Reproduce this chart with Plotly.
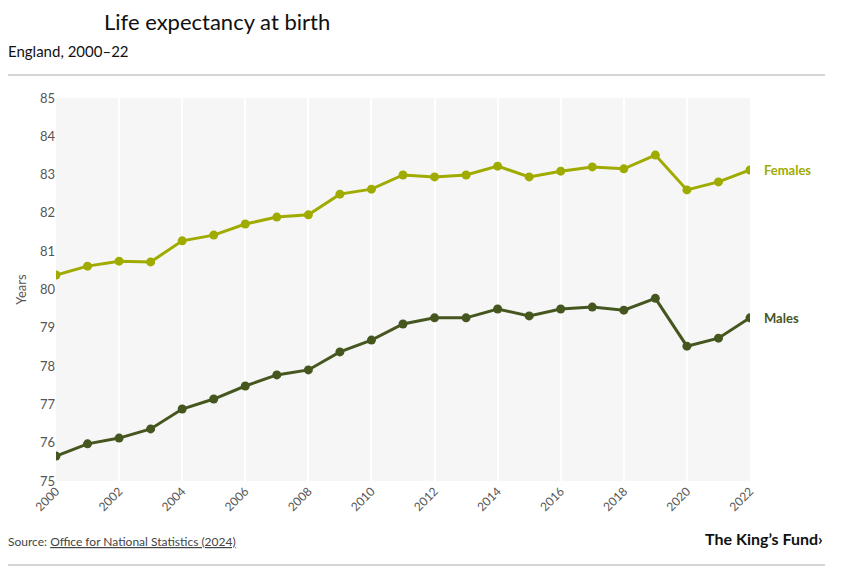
import plotly.graph_objects as go

years = list(range(2000, 2023))
females = [80.38, 80.61, 80.74, 80.72, 81.27, 81.42, 81.71, 81.89, 81.95, 82.49, 82.62, 82.99,
           82.94, 82.99, 83.22, 82.94, 83.09, 83.20, 83.15, 83.51, 82.60, 82.81, 83.12]
males = [75.65, 75.97, 76.12, 76.36, 76.88, 77.14, 77.48, 77.77, 77.90, 78.37, 78.68, 79.10,
         79.26, 79.26, 79.49, 79.31, 79.49, 79.54, 79.46, 79.77, 78.52, 78.73, 79.26]
series_names = ["Females", "Males"]
colors = ["#a0ab00", "#45561f"]

FONT = "Source Sans Pro, Lato, Noto Sans, sans-serif"

# page body has an 8px margin; figure coordinates are offset by 8px
OFF = 8
W, H = 857 - OFF, 571 - OFF
L, T = 56 - OFF, 98 - OFF
PW, PH = 694, 383

def px(x):
    return (x - OFF - L) / PW

def py(y):
    return 1 - (y - OFF - T) / PH

fig = go.Figure()
for name, vals, col in zip(series_names, [females, males], colors):
    fig.add_trace(go.Scatter(x=years, y=vals, mode="lines+markers", name=name,
                             line=dict(color=col, width=3), marker=dict(color=col, size=9)))
    fig.add_annotation(x=years[-1], y=vals[-1], text=f"<b>{name}</b>", showarrow=False,
                       xanchor="left", xshift=12, font=dict(color=col, size=13, family=FONT))

fig.update_layout(
    width=W, height=H,
    margin=dict(l=L, r=W - L - PW, t=T, b=H - T - PH),
    paper_bgcolor="white", plot_bgcolor="#f6f6f6",
    showlegend=False,
    font=dict(family=FONT, color="#555555"),
)

fig.update_xaxes(range=[2000, 2022], tickmode="array", tickvals=list(range(2000, 2023, 2)),
                 tickangle=-45, showgrid=True, gridcolor="white", gridwidth=2,
                 zeroline=False, showline=False, ticks="", tickfont=dict(size=12, color="#555555"))
fig.update_yaxes(range=[75, 85], dtick=1, showgrid=False, zeroline=False, showline=False,
                 ticks="", tickfont=dict(size=13, color="#555555"),
                 title=dict(text="Years", font=dict(size=13, color="#555555"), standoff=10))

fig.add_annotation(xref="paper", yref="paper", x=px(217), y=py(22), text="Life expectancy at birth",
                   showarrow=False, xanchor="center", yanchor="middle",
                   font=dict(size=22, color="#111111", family=FONT))
fig.add_annotation(xref="paper", yref="paper", x=px(6), y=py(51), text="England, 2000\u201322",
                   showarrow=False, xanchor="left", yanchor="middle",
                   font=dict(size=15, color="#111111", family=FONT))
fig.add_shape(type="line", xref="paper", yref="paper", x0=px(6), x1=px(825),
              y0=py(75), y1=py(75), line=dict(color="#aaaaaa", width=1))
fig.add_shape(type="line", xref="paper", yref="paper", x0=px(6), x1=px(825),
              y0=py(565), y1=py(565), line=dict(color="#aaaaaa", width=1))
fig.add_annotation(xref="paper", yref="paper", x=px(6), y=py(541),
                   text="Source: <u>Office for National Statistics (2024)</u>",
                   showarrow=False, xanchor="left", yanchor="middle",
                   font=dict(size=12, color="#444444", family=FONT))
fig.add_annotation(xref="paper", yref="paper", x=px(825), y=py(538),
                   text="<b>The King\u2019s Fund\u203a</b>",
                   showarrow=False, xanchor="right", yanchor="middle",
                   font=dict(size=16, color="#111111", family=FONT))

fig.write_html("out.html")
